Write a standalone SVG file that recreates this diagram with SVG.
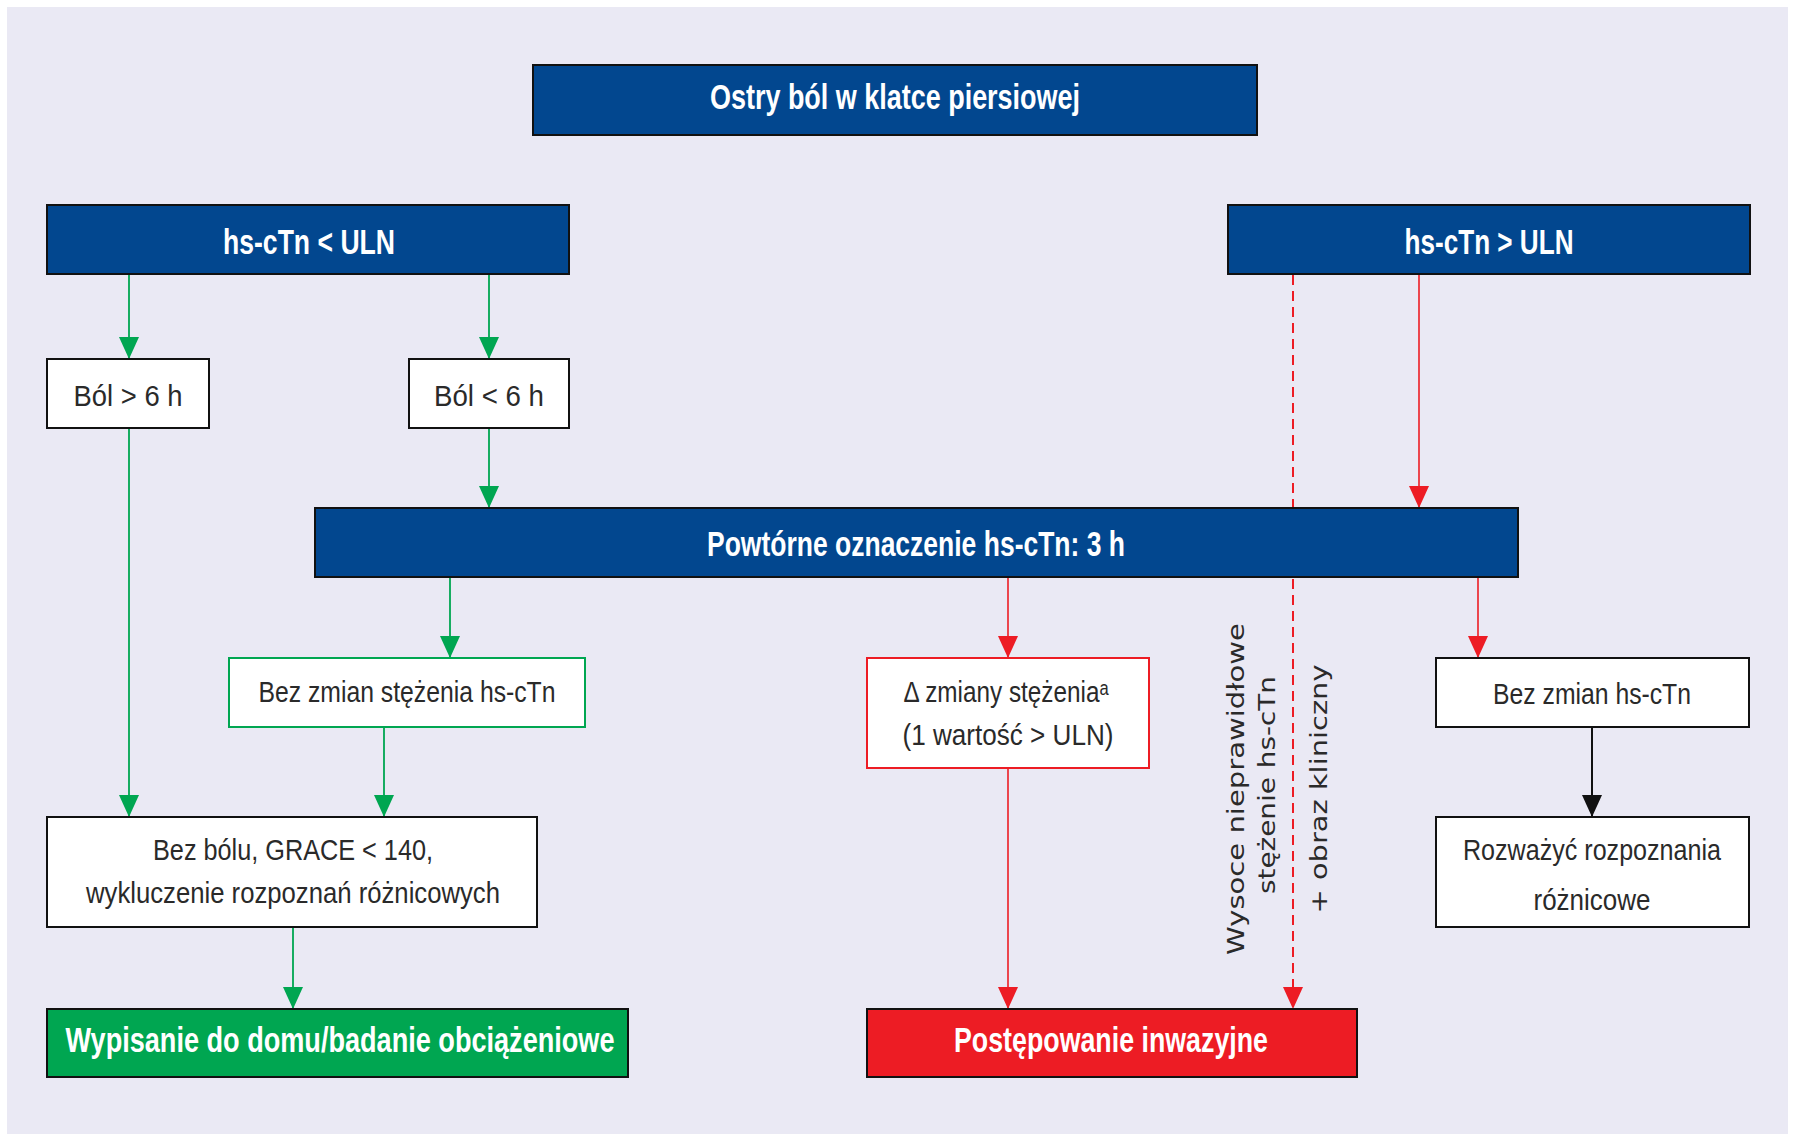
<svg xmlns="http://www.w3.org/2000/svg" width="1795" height="1139" viewBox="0 0 1795 1139">
  <style>
    .bg { fill: #EAE9F4; }
    .navy { fill: #02478F; stroke: #111; stroke-width: 2; }
    .plain { fill: #fff; stroke: #111; stroke-width: 2; }
    .gbox { fill: #fff; stroke: #00A651; stroke-width: 2; }
    .rbox { fill: #fff; stroke: #ED1C24; stroke-width: 2; }
    .gfill { fill: #00A651; stroke: #111; stroke-width: 2; }
    .rfill { fill: #ED1C24; stroke: #111; stroke-width: 2; }
    .tb { font-family: "Liberation Sans Narrow", "Liberation Sans", Arial, sans-serif; font-weight: bold; font-size: 35px; fill: #fff; text-anchor: middle; }
    .tr { font-family: "Liberation Sans Narrow", "Liberation Sans", "DejaVu Sans", Arial, sans-serif; font-size: 29px; fill: #2a2a2a; text-anchor: middle; }
    .tv { font-family: "DejaVu Sans", Verdana, sans-serif; font-size: 23px; fill: #2a2a2a; text-anchor: middle; }
    .g { stroke: #00A651; stroke-width: 1.8; fill: none; }
    .r { stroke: #ED1C24; stroke-width: 1.6; fill: none; }
    .rd { stroke: #ED1C24; stroke-width: 2; fill: none; stroke-dasharray: 10 6; }
    .k { stroke: #111; stroke-width: 2; fill: none; }
  </style>
  <defs>
    <marker id="ag" markerUnits="userSpaceOnUse" markerWidth="22" markerHeight="20" refX="22" refY="10" orient="auto" viewBox="0 0 22 20">
      <path d="M0,0 L22,10 L0,20 z" fill="#00A651"/>
    </marker>
    <marker id="ar" markerUnits="userSpaceOnUse" markerWidth="22" markerHeight="20" refX="22" refY="10" orient="auto" viewBox="0 0 22 20">
      <path d="M0,0 L22,10 L0,20 z" fill="#ED1C24"/>
    </marker>
    <marker id="ak" markerUnits="userSpaceOnUse" markerWidth="22" markerHeight="20" refX="22" refY="10" orient="auto" viewBox="0 0 22 20">
      <path d="M0,0 L22,10 L0,20 z" fill="#111"/>
    </marker>
  </defs>

  <rect x="0" y="0" width="1795" height="1139" fill="#fff"/>
  <rect class="bg" x="7" y="7" width="1781" height="1127"/>

  <!-- connectors -->
  <g id="connectors">
    <line class="g" x1="129" y1="275" x2="129" y2="359" marker-end="url(#ag)"/>
    <line class="g" x1="489" y1="275" x2="489" y2="359" marker-end="url(#ag)"/>
    <line class="g" x1="129" y1="429" x2="129" y2="817" marker-end="url(#ag)"/>
    <line class="g" x1="489" y1="429" x2="489" y2="508" marker-end="url(#ag)"/>
    <line class="g" x1="450" y1="578" x2="450" y2="658" marker-end="url(#ag)"/>
    <line class="g" x1="384" y1="728" x2="384" y2="817" marker-end="url(#ag)"/>
    <line class="g" x1="293" y1="928" x2="293" y2="1009" marker-end="url(#ag)"/>
    <line class="r" x1="1008" y1="578" x2="1008" y2="658" marker-end="url(#ar)"/>
    <line class="r" x1="1008" y1="769" x2="1008" y2="1009" marker-end="url(#ar)"/>
    <line class="r" x1="1419" y1="275" x2="1419" y2="508" marker-end="url(#ar)"/>
    <line class="r" x1="1478" y1="578" x2="1478" y2="658" marker-end="url(#ar)"/>
    <line class="rd" x1="1293" y1="275" x2="1293" y2="1009" marker-end="url(#ar)"/>
    <line class="k" x1="1592" y1="728" x2="1592" y2="817" marker-end="url(#ak)"/>
  </g>

  <!-- nodes -->
  <g id="n-start">
    <rect class="navy" x="533" y="65" width="724" height="70"/>
    <text class="tb" x="895" y="109" textLength="370" lengthAdjust="spacingAndGlyphs">Ostry ból w klatce piersiowej</text>
  </g>
  <g id="n-low">
    <rect class="navy" x="47" y="205" width="522" height="69"/>
    <text class="tb" x="309" y="254" textLength="172" lengthAdjust="spacingAndGlyphs">hs-cTn &lt; ULN</text>
  </g>
  <g id="n-high">
    <rect class="navy" x="1228" y="205" width="522" height="69"/>
    <text class="tb" x="1489" y="254" textLength="169" lengthAdjust="spacingAndGlyphs">hs-cTn &gt; ULN</text>
  </g>
  <g id="n-pain-gt6">
    <rect class="plain" x="47" y="359" width="162" height="69"/>
    <text class="tr" x="128" y="406" textLength="109" lengthAdjust="spacingAndGlyphs">Ból &gt; 6 h</text>
  </g>
  <g id="n-pain-lt6">
    <rect class="plain" x="409" y="359" width="160" height="69"/>
    <text class="tr" x="489" y="406" textLength="110" lengthAdjust="spacingAndGlyphs">Ból &lt; 6 h</text>
  </g>
  <g id="n-repeat">
    <rect class="navy" x="315" y="508" width="1203" height="69"/>
    <text class="tb" x="916" y="556" textLength="418" lengthAdjust="spacingAndGlyphs">Powtórne oznaczenie hs-cTn: 3 h</text>
  </g>
  <g id="n-nochange-left">
    <rect class="gbox" x="229" y="658" width="356" height="69"/>
    <text class="tr" x="407" y="702" textLength="297" lengthAdjust="spacingAndGlyphs">Bez zmian stężenia hs-cTn</text>
  </g>
  <g id="n-delta">
    <rect class="rbox" x="867" y="658" width="282" height="110"/>
    <text class="tr" x="1006" y="702" textLength="205" lengthAdjust="spacingAndGlyphs">Δ zmiany stężeniaᵃ</text>
    <text class="tr" x="1008" y="745" textLength="211" lengthAdjust="spacingAndGlyphs">(1 wartość &gt; ULN)</text>
  </g>
  <g id="n-nochange-right">
    <rect class="plain" x="1436" y="658" width="313" height="69"/>
    <text class="tr" x="1592" y="704" textLength="198" lengthAdjust="spacingAndGlyphs">Bez zmian hs-cTn</text>
  </g>
  <g id="n-differential">
    <rect class="plain" x="1436" y="817" width="313" height="110"/>
    <text class="tr" x="1592" y="860" textLength="258" lengthAdjust="spacingAndGlyphs">Rozważyć rozpoznania</text>
    <text class="tr" x="1592" y="910" textLength="117" lengthAdjust="spacingAndGlyphs">różnicowe</text>
  </g>
  <g id="n-nopain">
    <rect class="plain" x="47" y="817" width="490" height="110"/>
    <text class="tr" x="293" y="860" textLength="280" lengthAdjust="spacingAndGlyphs">Bez bólu, GRACE &lt; 140,</text>
    <text class="tr" x="293" y="903" textLength="414" lengthAdjust="spacingAndGlyphs">wykluczenie rozpoznań różnicowych</text>
  </g>
  <g id="n-discharge">
    <rect class="gfill" x="47" y="1009" width="581" height="68"/>
    <text class="tb" x="340" y="1052" textLength="549" lengthAdjust="spacingAndGlyphs">Wypisanie do domu/badanie obciążeniowe</text>
  </g>
  <g id="n-invasive">
    <rect class="rfill" x="867" y="1009" width="490" height="68"/>
    <text class="tb" x="1111" y="1052" textLength="314" lengthAdjust="spacingAndGlyphs">Postępowanie inwazyjne</text>
  </g>

  <!-- label beside the dashed connector -->
  <g id="dashed-label">
    <text class="tv" transform="translate(1244 789) rotate(-90)" textLength="332" lengthAdjust="spacingAndGlyphs">Wysoce nieprawidłowe</text>
    <text class="tv" transform="translate(1275 785) rotate(-90)" textLength="218" lengthAdjust="spacingAndGlyphs">stężenie hs-cTn</text>
    <text class="tv" transform="translate(1327 789) rotate(-90)" textLength="249" lengthAdjust="spacingAndGlyphs">+ obraz kliniczny</text>
  </g>
</svg>
